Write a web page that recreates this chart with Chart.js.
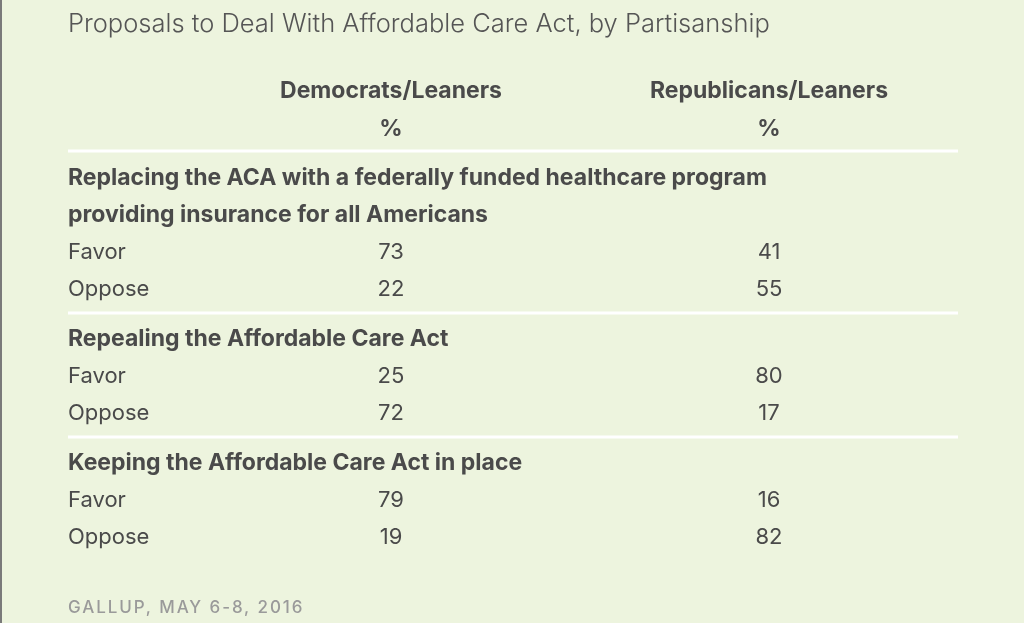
<!DOCTYPE html>
<html>
<head>
<meta charset="utf-8">
<script src="https://cdn.jsdelivr.net/npm/chart.js@4.4.1/dist/chart.umd.min.js"></script>
<style>
  html, body { margin: 0; padding: 0; background: #edf4de; }
  #wrap { position: relative; width: 1022px; height: 623px; border-left: 2px solid #7a7a7a; }
</style>
</head>
<body>
<div id="wrap"><canvas id="tbl"></canvas></div>
<script>
// Table contents
const title = "Proposals to Deal With Affordable Care Act, by Partisanship";
const source = "GALLUP, MAY 6-8, 2016";
const columns = ["Democrats/Leaners", "Republicans/Leaners"];
const unitLabel = "%";
const sections = [
  ["Replacing the ACA with a federally funded healthcare program", "providing insurance for all Americans"],
  ["Repealing the Affordable Care Act"],
  ["Keeping the Affordable Care Act in place"]
];
const answers = ["Favor", "Oppose"];
const demValues = [[73, 22], [25, 72], [79, 19]];
const repValues = [[41, 55], [80, 17], [16, 82]];

const SEP_GAP = 0.35;   // extra row space taken by a divider
const SEP_OFFSET = 0.65; // divider sits this far below last row

// build row list: each row has a label, bold flag and a position on the y scale
const rows = [];
const dividers = [];
let idx = 0;
sections.forEach((lines, s) => {
  lines.forEach(l => { rows.push({ label: l, bold: true, pos: idx + s * SEP_GAP }); idx++; });
  answers.forEach((a, k) => {
    rows.push({ label: a, bold: false, pos: idx + s * SEP_GAP, s, k });
    idx++;
  });
  if (s < sections.length - 1) dividers.push(rows[rows.length - 1].pos + SEP_OFFSET);
});

function cellPoints(values, col) {
  return rows.filter(r => !r.bold).map(r => ({ x: col, y: r.pos, v: values[r.s][r.k] }));
}

const textColor = "#4a4a4a";
const fontFam = "Inter, 'Liberation Sans', sans-serif";

// values in the two party columns
const cellText = {
  id: "cellText",
  afterDatasetsDraw(chart) {
    const ctx = chart.ctx;
    ctx.save();
    ctx.font = "400 22px " + fontFam;
    ctx.fillStyle = textColor;
    ctx.textAlign = "center";
    ctx.textBaseline = "middle";
    chart.data.datasets.forEach((ds, i) => {
      chart.getDatasetMeta(i).data.forEach((pt, j) => {
        ctx.fillText(String(ds.data[j].v), pt.x, pt.y);
      });
    });
    ctx.restore();
  }
};

// row labels, placed with the y scale (tick labels get clipped to the axis box)
const rowLabels = {
  id: "rowLabels",
  afterDatasetsDraw(chart) {
    const ctx = chart.ctx;
    const y = chart.scales.y;
    ctx.save();
    ctx.fillStyle = textColor;
    ctx.textAlign = "left";
    ctx.textBaseline = "middle";
    rows.forEach(r => {
      ctx.font = (r.bold ? "700 23px " : "400 22px ") + fontFam;
      ctx.fillText(r.label, y.left, y.getPixelForValue(r.pos));
    });
    ctx.restore();
  }
};

const dividerLines = {
  id: "dividerLines",
  beforeDatasetsDraw(chart) {
    const ctx = chart.ctx;
    const y = chart.scales.y, x = chart.scales.x;
    ctx.save();
    ctx.strokeStyle = "#ffffff";
    ctx.lineWidth = 3;
    [y.min].concat(dividers).forEach(v => {
      const py = Math.round(y.getPixelForValue(v)) - (v === y.min ? 1 : 0);
      ctx.beginPath();
      ctx.moveTo(y.left, py);
      ctx.lineTo(x.right, py);
      ctx.stroke();
    });
    ctx.restore();
  }
};

const footer = {
  id: "footer",
  afterDraw(chart) {
    const ctx = chart.ctx;
    ctx.save();
    ctx.font = "500 17px " + fontFam;
    ctx.fillStyle = "#9a9a9a";
    ctx.textBaseline = "alphabetic";
    ctx.textAlign = "left";
    if ("letterSpacing" in ctx) ctx.letterSpacing = "1.9px";
    ctx.fillText(source, chart.scales.y.left, chart.height - 10);
    ctx.restore();
  }
};

const canvas = document.getElementById("tbl");
const ctx = canvas.getContext("2d");

new Chart(ctx, {
  type: "scatter",
  data: {
    datasets: [
      { label: columns[0], data: cellPoints(demValues, columns[0]), pointRadius: 0 },
      { label: columns[1], data: cellPoints(repValues, columns[1]), pointRadius: 0 }
    ]
  },
  options: {
    responsive: true,
    maintainAspectRatio: false,
    animation: false,
    events: [],
    layout: { padding: { left: 66, right: 66, top: 0, bottom: 60 } },
    plugins: {
      legend: { display: false },
      tooltip: { enabled: false },
      title: {
        display: true,
        text: title,
        align: "start",
        color: "#555555",
        font: { family: fontFam, size: 25.5, weight: 300 },
        padding: { top: 9, bottom: 28 }
      }
    },
    scales: {
      x: {
        type: "category",
        position: "top",
        labels: columns,
        offset: true,
        grid: { display: false, drawTicks: false },
        border: { display: false },
        ticks: {
          color: textColor,
          font: { family: fontFam, size: 23, weight: 700, lineHeight: 1.652 },
          padding: 4,
          callback(value, index) { return [columns[index], unitLabel]; }
        }
      },
      y: {
        type: "linear",
        reverse: true,
        min: -0.73,
        max: 10.4,
        grid: { display: false, drawTicks: false },
        border: { display: false },
        afterFit(scale) { scale.width = 134; },
        afterBuildTicks(scale) { scale.ticks = rows.map(r => ({ value: r.pos })); },
        ticks: { display: false }
      }
    }
  },
  plugins: [dividerLines, cellText, rowLabels, footer]
});
</script>
</body>
</html>
